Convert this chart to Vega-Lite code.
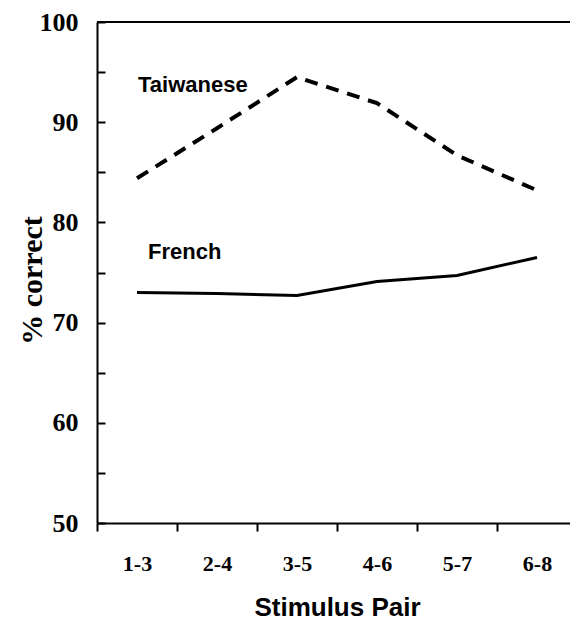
{
  "$schema": "https://vega.github.io/schema/vega-lite/v6.json",
  "width": 473,
  "height": 501,
  "autosize": "none",
  "padding": {"left": 97, "top": 22, "right": 0, "bottom": 97},
  "background": "white",
  "config": {"view": {"stroke": null}},
  "datasets": {
    "scores": [
      {"pair": "1-3", "group": "Taiwanese", "pct": 84.4},
      {"pair": "2-4", "group": "Taiwanese", "pct": 89.4},
      {"pair": "3-5", "group": "Taiwanese", "pct": 94.5},
      {"pair": "4-6", "group": "Taiwanese", "pct": 91.9},
      {"pair": "5-7", "group": "Taiwanese", "pct": 86.7},
      {"pair": "6-8", "group": "Taiwanese", "pct": 83.2},
      {"pair": "1-3", "group": "French", "pct": 73.0},
      {"pair": "2-4", "group": "French", "pct": 72.9},
      {"pair": "3-5", "group": "French", "pct": 72.7},
      {"pair": "4-6", "group": "French", "pct": 74.1},
      {"pair": "5-7", "group": "French", "pct": 74.7},
      {"pair": "6-8", "group": "French", "pct": 76.5}
    ],
    "labels": [
      {"pair": "1-3", "pct": 93.0, "text": "Taiwanese"},
      {"pair": "1-3", "pct": 76.3, "text": "French"}
    ]
  },
  "encoding": {
    "x": {
      "field": "pair",
      "type": "ordinal",
      "sort": ["1-3", "2-4", "3-5", "4-6", "5-7", "6-8"],
      "scale": {"domain": ["1-3", "2-4", "3-5", "4-6", "5-7", "6-8"], "range": [0, 480], "paddingInner": 0, "paddingOuter": 0},
      "axis": {
        "title": "Stimulus Pair",
        "tickBand": "extent",
        "tickSize": 8,
        "tickWidth": 2,
        "tickColor": "black",
        "domainColor": "black",
        "domainWidth": 2,
        "labelAngle": 0,
        "labelFont": "Liberation Serif",
        "labelFontWeight": "bold",
        "labelFontSize": 22,
        "labelColor": "black",
        "labelPadding": 22,
        "titleFont": "Liberation Sans",
        "titleFontWeight": "bold",
        "titleFontSize": 26,
        "titleColor": "black",
        "titlePadding": 20
      }
    },
    "y": {
      "field": "pct",
      "type": "quantitative",
      "scale": {"domain": [50, 100], "nice": false, "zero": false},
      "axis": {
        "title": "% correct",
        "values": [50, 55, 60, 65, 70, 75, 80, 85, 90, 95, 100],
        "labelExpr": "datum.value % 10 == 0 ? datum.label : ''",
        "grid": false,
        "tickSize": -8,
        "tickWidth": 2,
        "tickColor": "black",
        "domainColor": "black",
        "domainWidth": 2,
        "labelFont": "Liberation Serif",
        "labelFontWeight": "bold",
        "labelFontSize": 26,
        "labelColor": "black",
        "labelPadding": 27,
        "titleFont": "Liberation Serif",
        "titleFontWeight": "bold",
        "titleFontSize": 30,
        "titleColor": "black",
        "titlePadding": -8,
        "titleY": 258
      }
    }
  },
  "layer": [
    {
      "data": {"values": [{"top": 100}]},
      "mark": {"type": "rule", "color": "black", "strokeWidth": 2},
      "encoding": {"y": {"field": "top", "type": "quantitative"}, "x": null}
    },
    {
      "data": {"name": "scores"},
      "transform": [{"filter": "datum.group == 'French'"}],
      "mark": {"type": "line", "color": "black", "strokeWidth": 3},
      "encoding": {}
    },
    {
      "data": {"name": "scores"},
      "transform": [{"filter": "datum.group == 'Taiwanese'"}],
      "mark": {"type": "line", "color": "black", "strokeWidth": 4, "strokeDash": [13, 9]},
      "encoding": {}
    },
    {
      "data": {"name": "labels"},
      "transform": [{"filter": "datum.text == 'Taiwanese'"}],
      "mark": {"type": "text", "align": "left", "baseline": "alphabetic", "font": "Liberation Sans", "fontWeight": "bold", "fontSize": 22, "color": "black", "dx": 1},
      "encoding": {"text": {"field": "text"}}
    },
    {
      "data": {"name": "labels"},
      "transform": [{"filter": "datum.text == 'French'"}],
      "mark": {"type": "text", "align": "left", "baseline": "alphabetic", "font": "Liberation Sans", "fontWeight": "bold", "fontSize": 22, "color": "black", "dx": 11},
      "encoding": {"text": {"field": "text"}}
    }
  ]
}
